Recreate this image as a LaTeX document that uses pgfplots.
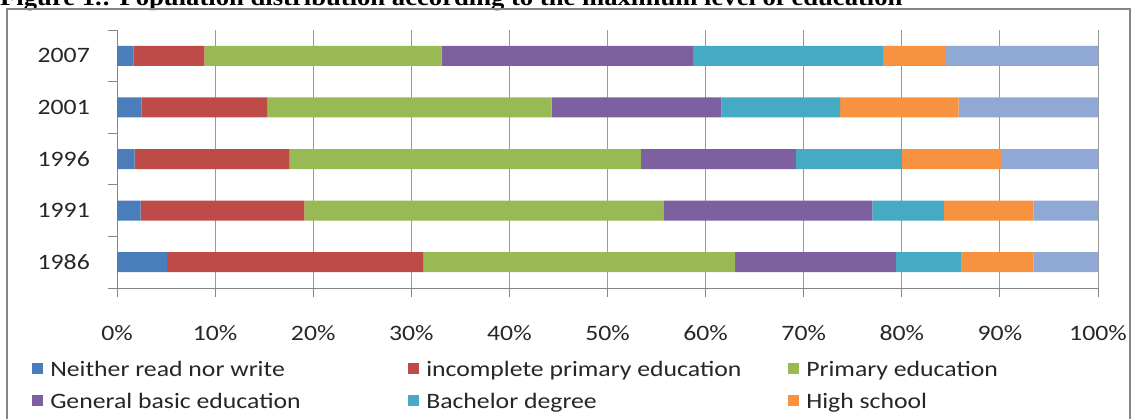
\documentclass[border=0pt]{standalone}
\usepackage{pgfplots}
\pgfplotsset{compat=1.18}
\usepackage{fontspec}
\setmainfont[FakeStretch=1.17]{Carlito}
\newfontfamily\titlefont[FakeStretch=1.11]{Liberation Serif}
\definecolor{cA}{HTML}{4A7EBB}
\definecolor{cB}{HTML}{BE4B48}
\definecolor{cC}{HTML}{98B954}
\definecolor{cD}{HTML}{7D60A0}
\definecolor{cE}{HTML}{46AAC5}
\definecolor{cF}{HTML}{F69240}
\definecolor{cG}{HTML}{8FA8D4}
\definecolor{axisgray}{HTML}{868686}
\definecolor{gridgray}{HTML}{9A9A9A}
\begin{document}
\begin{tikzpicture}
\path[use as bounding box] (0pt,0pt) rectangle (1134pt,-418pt);
\node[anchor=base west, inner sep=0pt, font=\titlefont\bfseries\fontsize{24pt}{28pt}\selectfont] at (0pt,-5pt) {Figure 1.: Population distribution according to the maximum level of education};
\draw[axisgray, line width=1.5pt] (7pt,-440pt) -- (7pt,-9pt) -- (1130pt,-9pt) -- (1130pt,-440pt);
\begin{axis}[
  at={(117pt,-288pt)}, anchor=south west,
  scale only axis, width=981pt, height=258pt,
  xbar stacked, bar width=20pt,
  xmin=0, xmax=100, ymin=-0.5, ymax=4.5,
  axis x line*=bottom, axis y line*=left,
  axis line style={draw=axisgray, line width=1pt},
  xtick={0,10,...,100},
  xticklabels={0\%,10\%,20\%,30\%,40\%,50\%,60\%,70\%,80\%,90\%,100\%},
  ytick={-0.5,0.5,1.5,2.5,3.5,4.5},
  y tick label as interval,
  yticklabels={1986,1991,1996,2001,2007},
  tick align=outside, major tick length=9pt,
  tick style={draw=axisgray, line width=1pt},
  xmajorgrids, grid style={draw=gridgray, line width=1pt},
  tick label style={font=\fontsize{22pt}{26pt}\selectfont, text=black!85},
  xticklabel style={anchor=north, inner sep=0pt, yshift=-28pt},
  yticklabel style={anchor=east, inner sep=0pt, xshift=-18pt},
  legend columns=3,
  legend style={at={(axis description cs:-0.0866,-0.279)}, anchor=north west,
    draw=none, fill=none, inner sep=0pt, row sep=11pt, column sep=0pt,
    font=\fontsize{22pt}{26pt}\selectfont, text=black!85,
    nodes={inner sep=0pt, text height=16pt, text depth=5pt, anchor=base west}},
  legend image code/.code={\fill[#1] (0pt,2pt) rectangle (11pt,13pt);},
]
\addplot[fill=cA, draw=none] coordinates {(5.1,0) (2.4,1) (1.8,2) (2.5,3) (1.7,4)};
\addlegendentry{\hspace*{7pt}\makebox[358pt][l]{Neither read nor write}}
\addplot[fill=cB, draw=none] coordinates {(26.1,0) (16.7,1) (15.8,2) (12.8,3) (7.2,4)};
\addlegendentry{\hspace*{7pt}\makebox[362pt][l]{incomplete primary education}}
\addplot[fill=cC, draw=none] coordinates {(31.8,0) (36.6,1) (35.8,2) (29.0,3) (24.2,4)};
\addlegendentry{\hspace*{7pt}\makebox[300pt][l]{Primary education}}
\addplot[fill=cD, draw=none] coordinates {(16.4,0) (21.3,1) (15.8,2) (17.3,3) (25.6,4)};
\addlegendentry{\hspace*{7pt}\makebox[358pt][l]{General basic education}}
\addplot[fill=cE, draw=none] coordinates {(6.7,0) (7.3,1) (10.8,2) (12.1,3) (19.4,4)};
\addlegendentry{\hspace*{7pt}\makebox[362pt][l]{Bachelor degree}}
\addplot[fill=cF, draw=none] coordinates {(7.3,0) (9.1,1) (10.1,2) (12.1,3) (6.3,4)};
\addlegendentry{\hspace*{7pt}\makebox[300pt][l]{High school}}
\addplot[fill=cG, draw=none, forget plot] coordinates {(6.6,0) (6.6,1) (9.9,2) (14.2,3) (15.6,4)};
\end{axis}
\end{tikzpicture}
\end{document}
